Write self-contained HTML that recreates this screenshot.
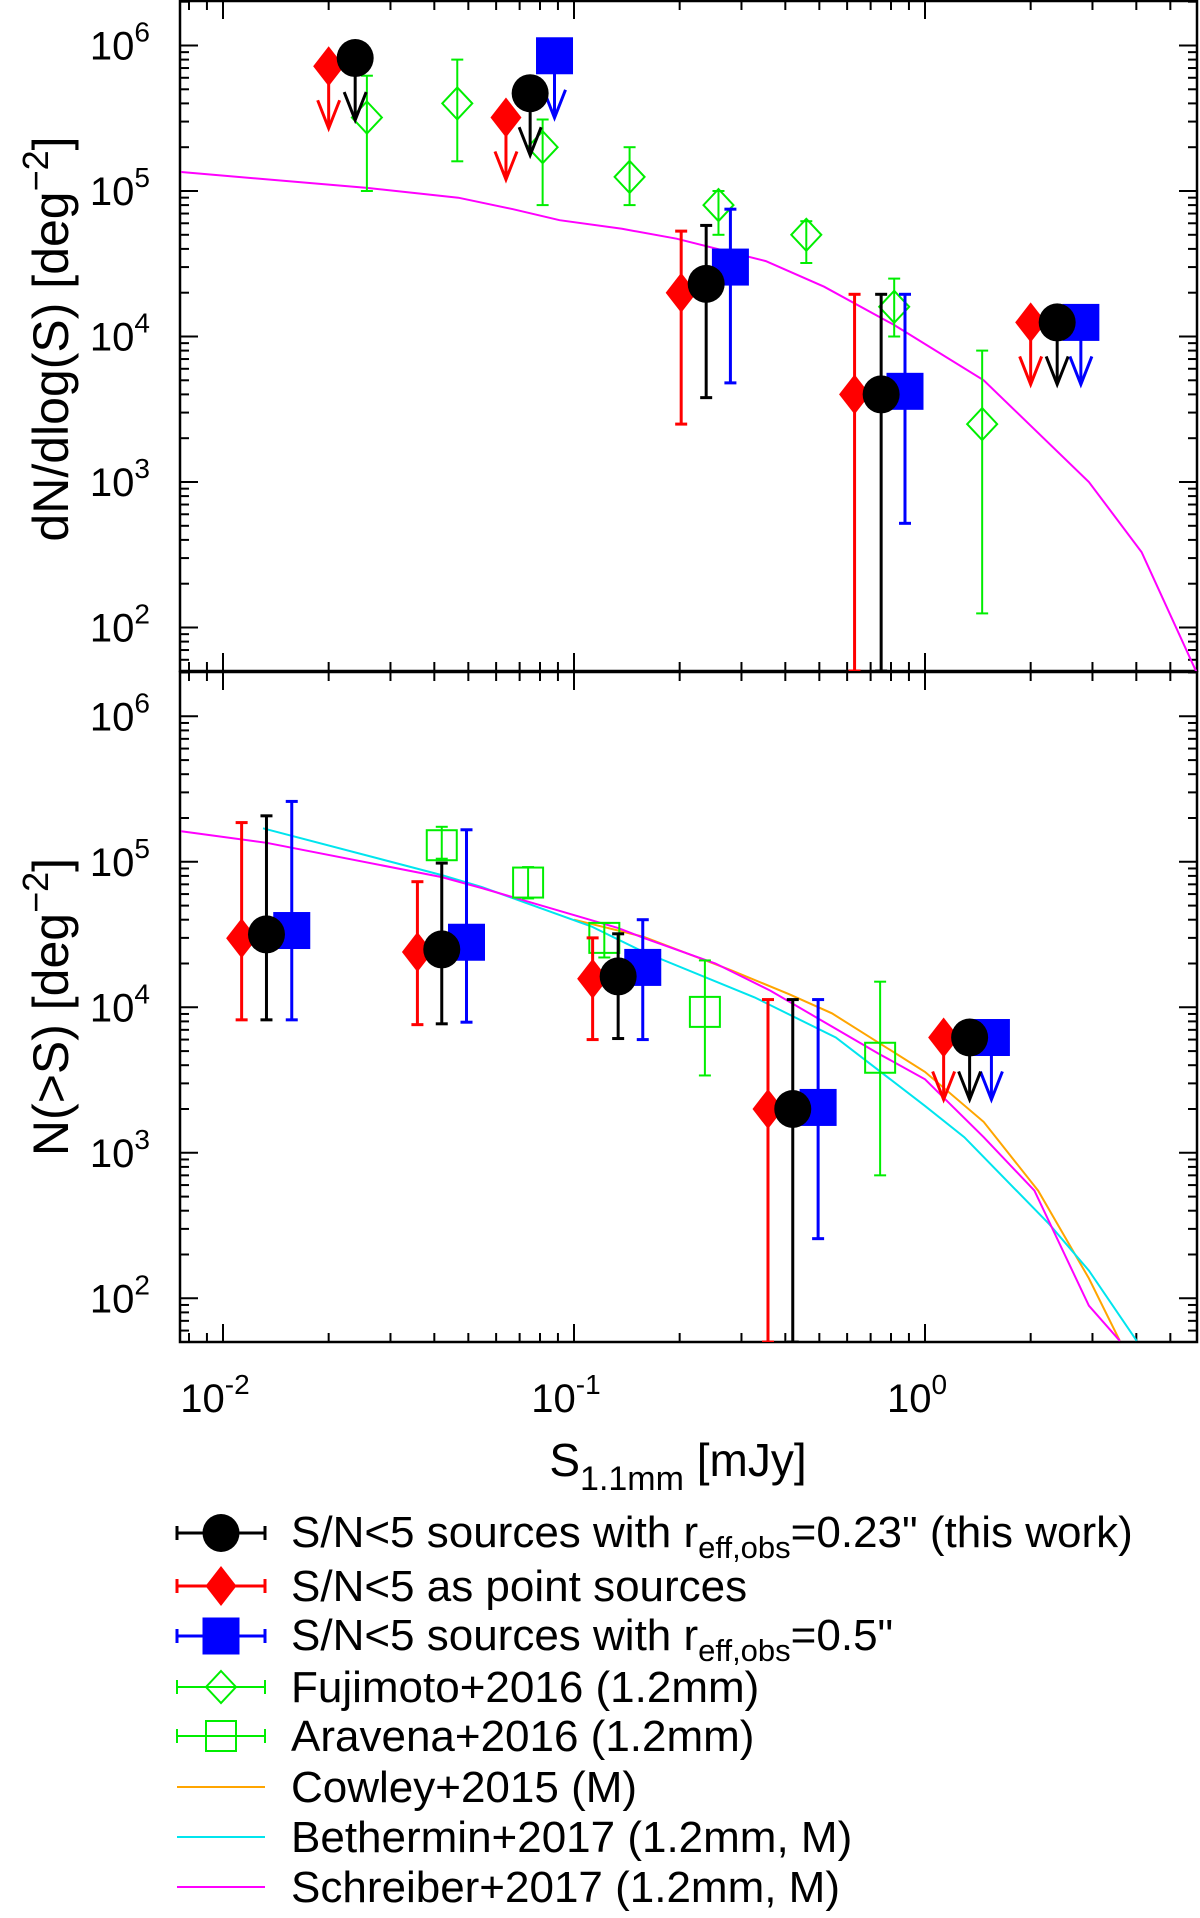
<!DOCTYPE html>
<html><head><meta charset="utf-8"><style>
html,body{margin:0;padding:0;background:#fff;}
svg{display:block;font-family:"Liberation Sans",sans-serif;}
</style></head><body>
<svg id="chart" width="1200" height="1918" viewBox="0 0 1200 1918" xmlns="http://www.w3.org/2000/svg"></svg>
<script>
// ---------- data ----------
const topRedS=[0.020,0.064,0.202,0.63,2.0];
const topRedY=[7.2e5,3.2e5,2.0e4,4.0e3,1.25e4];
const topRedLo=[null,null,2500,50,null];
const topRedHi=[null,null,53000,19500,null];
const topRedUL=[true,true,false,false,true];
const topBlackS=[0.0238,0.075,0.238,0.75,2.38];
const topBlackY=[8.2e5,4.7e5,2.3e4,4.0e3,1.25e4];
const topBlackLo=[null,null,3800,50,null];
const topBlackHi=[null,null,58000,19500,null];
const topBlackUL=[true,true,false,false,true];
const topBlueS=[0.088,0.279,0.877,2.78];
const topBlueY=[8.5e5,3.0e4,4.2e3,1.25e4];
const topBlueLo=[null,4800,520,null];
const topBlueHi=[null,75000,19500,null];
const topBlueUL=[true,false,false,true];
const fujiS=[0.0257,0.0465,0.0814,0.144,0.258,0.459,0.817,1.455];
const fujiY=[3.2e5,4.0e5,2.0e5,1.25e5,8.0e4,5.0e4,1.6e4,2500];
const fujiLo=[1.0e5,1.6e5,8.0e4,8.0e4,5.0e4,3.2e4,1.0e4,125];
const fujiHi=[6.2e5,8.0e5,3.1e5,2.0e5,1.0e5,6.2e4,2.5e4,8000];
const schrTopS=[0.0076,0.0257,0.0468,0.067,0.091,0.137,0.196,0.352,0.516,0.817,1.47,2.93,4.14,5.92];
const schrTopY=[1.35e5,1.05e5,9.0e4,7.5e4,6.3e4,5.5e4,4.7e4,3.3e4,2.2e4,1.2e4,5.0e3,1.0e3,330,50];
const botRedS=[0.0113,0.0358,0.113,0.357,1.13];
const botRedY=[29800,24000,15700,2000,6200];
const botRedLo=[8200,7600,6000,50,null];
const botRedHi=[1.86e5,7.3e4,3.0e4,11300,null];
const botRedUL=[false,false,false,false,true];
const botBlackS=[0.0133,0.042,0.1336,0.42,1.34];
const botBlackY=[31700,25000,16300,2000,6200];
const botBlackLo=[8200,7700,6100,50,null];
const botBlackHi=[2.07e5,9.8e4,3.2e4,11300,null];
const botBlackUL=[false,false,false,false,true];
const botBlueS=[0.0157,0.0494,0.157,0.496,1.546];
const botBlueY=[33700,28000,18800,2050,6200];
const botBlueLo=[8200,7900,6000,257,null];
const botBlueHi=[2.6e5,1.66e5,4.0e4,11300,null];
const botBlueUL=[false,false,false,false,true];
const araS=[0.042,0.074,0.122,0.236,0.745];
const araY=[1.3e5,7.2e4,3.0e4,9300,4500];
const araLo=[1.05e5,5.6e4,2.2e4,3400,700];
const araHi=[1.74e5,9.2e4,3.8e4,2.1e4,1.5e4];
const schrBotS=[0.0076,0.0133,0.042,0.0547,0.1336,0.158,0.253,0.363,0.491,0.738,1.0,1.47,2.05,2.93,3.59];
const schrBotY=[1.62e5,1.35e5,7.85e4,6.6e4,3.5e4,3.0e4,2.0e4,1.3e4,8500,4800,3200,1280,550,89,51];
const bethS=[0.0130,0.042,0.0547,0.112,0.158,0.327,0.557,1.0,1.294,2.26,2.93,4.01];
const bethY=[1.7e5,8.1e4,6.7e4,3.6e4,2.4e4,1.17e4,6200,2100,1280,323,155,51];
const cowS=[0.10,0.158,0.280,0.410,0.543,1.0,1.47,2.10,2.93,3.59];
const cowY=[4.0e4,3.05e4,1.8e4,1.23e4,9100,3600,1630,550,137,51];
const xTicks=[0.01,0.1,1];
const xTickLabels=["-2","-1","0"];
const yTicks=[1e2,1e3,1e4,1e5,1e6];
const yTickLabels=["2","3","4","5","6"];

// ---------- geometry ----------
const L=180,R=1197;
const X=s=>925+351*Math.log10(s);
const topP={t:1,b:671,y0:45.5};
const botP={t:672,b:1342,y0:716.3};
const Y=(p,v)=>p.y0+145.5*(6-Math.log10(v));
const NS="http://www.w3.org/2000/svg";
const svg=document.getElementById('chart');
function mk(tag,attrs,parent){const e=document.createElementNS(NS,tag);for(const k in attrs)e.setAttribute(k,attrs[k]);(parent||svg).appendChild(e);return e;}

const defs=mk('defs',{});
[['clipTop',topP],['clipBot',botP]].forEach(([id,p])=>{const c=mk('clipPath',{id:id},defs);mk('rect',{x:L,y:p.t,width:R-L,height:p.b-p.t},c);});

function axes(p,name){
  const g=mk('g',{});
  
  
  mk('rect',{x:L,y:p.t,width:R-L,height:p.b-p.t,fill:'none',stroke:'#000','stroke-width':2.5},g);
  for(let d=-3;d<=0;d++)for(let m=1;m<=9;m++){const s=m*Math.pow(10,d);const x=X(s);if(x<L||x>R)continue;const len=m===1?18:9;
    mk('line',{x1:x,y1:p.b,x2:x,y2:p.b-len,stroke:'#000','stroke-width':2},g);
    mk('line',{x1:x,y1:p.t,x2:x,y2:p.t+len,stroke:'#000','stroke-width':2},g);}
  for(let d=1;d<=6;d++)for(let m=1;m<=9;m++){const v=m*Math.pow(10,d);const y=Y(p,v);if(y<p.t||y>p.b)continue;const len=m===1?18:9;
    mk('line',{x1:L,y1:y,x2:L+len,y2:y,stroke:'#000','stroke-width':2},g);
    mk('line',{x1:R,y1:y,x2:R-len,y2:y,stroke:'#000','stroke-width':2},g);}
  yTicks.forEach((v,i)=>{const t=mk('text',{x:150,y:Y(p,v)+14,'font-size':40,'text-anchor':'end'},g);
    
    t.textContent='10';const s=mk('tspan',{dy:-18,'font-size':28},t);s.textContent=yTickLabels[i];});
}
axes(topP,'top-panel');axes(botP,'bottom-panel');

function line(p,xs,ys,color,name,clip){
  const d=xs.map((s,i)=>(i?'L':'M')+X(s).toFixed(1)+','+Y(p,ys[i]).toFixed(1)).join('');
  const e=mk('path',{d:d,fill:'none',stroke:color,'stroke-width':2,'clip-path':'url(#'+clip+')'});
  
}
function errbar(p,x,lo,hi,color,w,clip,g){
  const y1=Math.min(Y(p,lo),p.b),y2=Y(p,hi);
  mk('line',{x1:x,y1:y1,x2:x,y2:y2,stroke:color,'stroke-width':w,'clip-path':'url(#'+clip+')'},g);
  mk('line',{x1:x-6,y1:y1,x2:x+6,y2:y1,stroke:color,'stroke-width':w,'clip-path':'url(#'+clip+')'},g);
  mk('line',{x1:x-6,y1:y2,x2:x+6,y2:y2,stroke:color,'stroke-width':w},g);
}
function arrow(x,y,color,g){
  mk('line',{x1:x,y1:y,x2:x,y2:y+60,stroke:color,'stroke-width':3},g);
  mk('polyline',{points:(x-11)+','+(y+34)+' '+x+','+(y+62)+' '+(x+11)+','+(y+34),fill:'none',stroke:color,'stroke-width':3},g);
}
function marker(kind,x,y,color,g){
  if(kind==='circle')mk('ellipse',{cx:x,cy:y,rx:18.5,ry:19,fill:color},g);
  else if(kind==='square')mk('rect',{x:x-18.5,y:y-18.5,width:37,height:37,fill:color},g);
  else if(kind==='diamond')mk('polygon',{points:`${x},${y-20} ${x+15.5},${y} ${x},${y+20} ${x-15.5},${y}`,fill:color},g);
  else if(kind==='odiamond')mk('polygon',{points:`${x},${y-16} ${x+15},${y} ${x},${y+16} ${x-15},${y}`,fill:'none',stroke:color,'stroke-width':2},g);
  else if(kind==='osquare')mk('rect',{x:x-15,y:y-15,width:30,height:30,fill:'none',stroke:color,'stroke-width':2},g);
}
function series(p,clip,name,kind,color,S,V,lo,hi,ul,w){
  S.forEach((s,i)=>{
    const g=mk('g',{});
    
    
    const x=X(s),y=Y(p,V[i]);
    if(ul&&ul[i]){arrow(x,y,color,g);}
    else if(lo[i]!=null){errbar(p,x,lo[i],hi[i],color,w,clip,g);}
    marker(kind,x,y,color,g);
  });
}
line(topP,schrTopS,schrTopY,'#ff00ff','schreiber-curve-top','clipTop');
series(topP,'clipTop','fujimoto','odiamond','#00ee00',fujiS,fujiY,fujiLo,fujiHi,null,2);
series(topP,'clipTop','point-sources-top','diamond','#ff0000',topRedS,topRedY,topRedLo,topRedHi,topRedUL,3);
series(topP,'clipTop','reff-0.5-top','square','#0000ff',topBlueS,topBlueY,topBlueLo,topBlueHi,topBlueUL,3);
series(topP,'clipTop','reff-0.23-top','circle','#000000',topBlackS,topBlackY,topBlackLo,topBlackHi,topBlackUL,3);
line(botP,cowS,cowY,'#ffa500','cowley-curve','clipBot');
line(botP,bethS,bethY,'#00e5ee','bethermin-curve','clipBot');
line(botP,schrBotS,schrBotY,'#ff00ff','schreiber-curve-bottom','clipBot');
series(botP,'clipBot','aravena','osquare','#00ee00',araS,araY,araLo,araHi,null,2);
series(botP,'clipBot','point-sources-bottom','diamond','#ff0000',botRedS,botRedY,botRedLo,botRedHi,botRedUL,3);
series(botP,'clipBot','reff-0.5-bottom','square','#0000ff',botBlueS,botBlueY,botBlueLo,botBlueHi,botBlueUL,3);
series(botP,'clipBot','reff-0.23-bottom','circle','#000000',botBlackS,botBlackY,botBlackLo,botBlackHi,botBlackUL,3);
xTicks.forEach((s,i)=>{const t=mk('text',{x:X(s)-8,y:1412,'font-size':40,'text-anchor':'middle'});
  
  t.textContent='10';const sp=mk('tspan',{dy:-18,'font-size':28},t);sp.textContent=xTickLabels[i];});
const legColors=['#000000','#ff0000','#0000ff','#00ee00','#00ee00','#ffa500','#00e5ee','#ff00ff'];
const legKinds=['circle','diamond','square','odiamond','osquare',null,null,null];
const legY=[1533,1586,1636,1687,1736,1787,1837,1887];
legY.forEach((y,i)=>{
  const g=mk('g',{});
  
  
  const c=legColors[i];
  if(legKinds[i]){const w=i<3?3:2;
    mk('line',{x1:177,y1:y,x2:265,y2:y,stroke:c,'stroke-width':w},g);
    mk('line',{x1:177,y1:y-7,x2:177,y2:y+7,stroke:c,'stroke-width':w},g);
    mk('line',{x1:265,y1:y-7,x2:265,y2:y+7,stroke:c,'stroke-width':w},g);
    marker(legKinds[i],221,y,c,g);}
  else mk('line',{x1:177,y1:y,x2:265,y2:y,stroke:c,'stroke-width':2},g);
});
</script>
<svg style="position:absolute;left:0;top:0" width="1200" height="1918">
<g font-family="Liberation Sans, sans-serif" fill="#000">
<text transform="translate(68,339) rotate(-90)" text-anchor="middle" font-size="50">dN/dlog(S) [deg<tspan dy="-20" font-size="36">−2</tspan><tspan dy="20">]</tspan></text>
<text transform="translate(68,1007) rotate(-90)" text-anchor="middle" font-size="50">N(&gt;S) [deg<tspan dy="-20" font-size="36">−2</tspan><tspan dy="20">]</tspan></text>
<text x="678" y="1476" text-anchor="middle" font-size="46">S<tspan dy="14" font-size="34">1.1mm</tspan><tspan dy="-14"> [mJy]</tspan></text>
<g font-size="44">
<text x="291" y="1547">S/N&lt;5 sources with r<tspan dy="11" font-size="31">eff,obs</tspan><tspan dy="-11">=0.23" (this work)</tspan></text>
<text x="291" y="1601">S/N&lt;5 as point sources</text>
<text x="291" y="1650">S/N&lt;5 sources with r<tspan dy="11" font-size="31">eff,obs</tspan><tspan dy="-11">=0.5"</tspan></text>
<text x="291" y="1702">Fujimoto+2016 (1.2mm)</text>
<text x="291" y="1751">Aravena+2016 (1.2mm)</text>
<text x="291" y="1802">Cowley+2015 (M)</text>
<text x="291" y="1852">Bethermin+2017 (1.2mm, M)</text>
<text x="291" y="1902">Schreiber+2017 (1.2mm, M)</text>
</g></g></svg>
</body></html>
